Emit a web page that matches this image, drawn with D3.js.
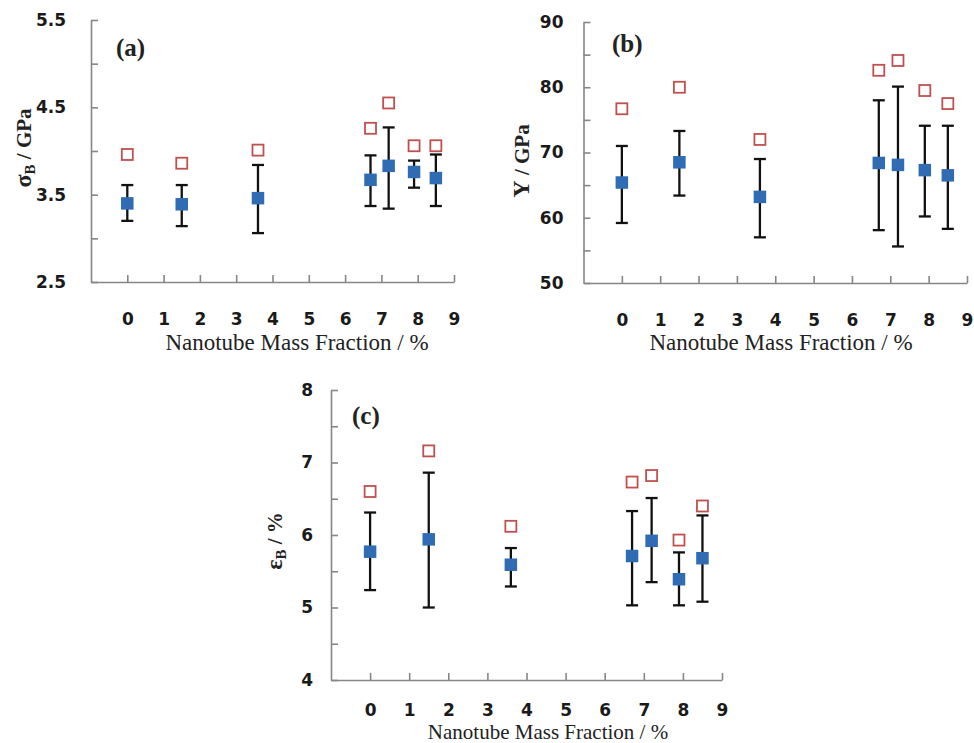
<!DOCTYPE html>
<html>
<head>
<meta charset="utf-8">
<script src="https://cdn.jsdelivr.net/npm/d3@7"></script>
<style>
  html, body { margin: 0; padding: 0; background: #fff; }
  svg { display: block; }
</style>
</head>
<body>
<svg id="fig" width="974" height="743"></svg>
<script>
// Nanotube mass fraction (%) of each specimen set, shared by all three panels
const massFraction = [0, 1.5, 3.6, 6.7, 7.2, 7.9, 8.5];
const xTickValues = [0, 1, 2, 3, 4, 5, 6, 7, 8, 9];

// (a) breaking strength, GPa
const strengthMean = [3.40, 3.39, 3.46, 3.67, 3.83, 3.76, 3.69];
const strengthHigh = [3.61, 3.61, 3.84, 3.95, 4.27, 3.89, 3.96];
const strengthLow  = [3.20, 3.14, 3.06, 3.37, 3.34, 3.58, 3.37];
const strengthMax  = [3.96, 3.86, 4.01, 4.26, 4.55, 4.06, 4.06];
const strengthTicks  = [2.5, 3.0, 3.5, 4.0, 4.5, 5.0, 5.5];
const strengthLabels = [2.5, 3.5, 4.5, 5.5];

// (b) Young's modulus, GPa
const modulusMean = [65.4, 68.5, 63.2, 68.4, 68.1, 67.3, 66.5];
const modulusHigh = [71.0, 73.3, 69.0, 78.0, 80.1, 74.1, 74.1];
const modulusLow  = [59.2, 63.4, 57.0, 58.1, 55.6, 60.2, 58.3];
const modulusMax  = [76.7, 80.0, 72.0, 82.6, 84.1, 79.5, 77.5];
const modulusTicks  = [50, 55, 60, 65, 70, 75, 80, 85, 90];
const modulusLabels = [50, 60, 70, 80, 90];

// (c) strain at break, %
const strainMean = [5.77, 5.94, 5.59, 5.71, 5.92, 5.39, 5.68];
const strainHigh = [6.31, 6.86, 5.82, 6.33, 6.51, 5.76, 6.27];
const strainLow  = [5.24, 5.00, 5.29, 5.03, 5.35, 5.03, 5.08];
const strainMax  = [6.60, 7.16, 6.12, 6.73, 6.82, 5.93, 6.40];
const strainTicks  = [4, 4.5, 5, 5.5, 6, 6.5, 7, 7.5, 8];
const strainLabels = [4, 5, 6, 7, 8];

const svg = d3.select("#fig");

const AXIS_COLOR = "#868686";
const BLUE = "#2f6cb3";
const RED = "#c0504d";
const TICK_FONT = "'DejaVu Sans', Verdana, sans-serif";
const SERIF = "'Liberation Serif', 'Times New Roman', serif";

function drawPanel(p) {
  const x = d3.scaleLinear().domain([-1, 9]).range([p.left, p.right]);
  const y = d3.scaleLinear().domain(p.yDomain).range([p.bottom, p.top]);
  const g = svg.append("g");

  // x axis: ticks point inward, labels sit well below the line
  const xAxis = d3.axisBottom(x)
    .tickValues(xTickValues)
    .tickSizeInner(-7)
    .tickSizeOuter(0)
    .tickPadding(p.xPad)
    .tickFormat(d3.format("d"));
  const gx = g.append("g")
    .attr("transform", `translate(0,${p.bottom})`)
    .call(xAxis);

  // y axis: minor ticks every half step, labels on every other tick
  const labelSet = new Set(p.yLabels);
  const yAxis = d3.axisLeft(y)
    .tickValues(p.yTicks)
    .tickSizeInner(-7)
    .tickSizeOuter(0)
    .tickPadding(p.yPad)
    .tickFormat(d => labelSet.has(d) ? p.yFormat(d) : "");
  const gy = g.append("g")
    .attr("transform", `translate(${p.left},0)`)
    .call(yAxis);

  [gx, gy].forEach(a => {
    a.select(".domain").attr("stroke", AXIS_COLOR).attr("stroke-width", 1.6);
    a.selectAll(".tick line").attr("stroke", AXIS_COLOR).attr("stroke-width", 1.6);
    a.selectAll(".tick text")
      .attr("fill", "#1a1a1a")
      .style("font-family", TICK_FONT)
      .style("font-weight", "bold")
      .style("font-size", "17px");
  });

  const rows = massFraction.map((m, i) => ({
    m, mean: p.mean[i], hi: p.high[i], lo: p.low[i], max: p.max[i]
  }));

  // open squares for the maximum values
  const S_OPEN = 11;
  g.append("g").selectAll("rect")
    .data(rows).join("rect")
    .attr("x", d => x(d.m) - S_OPEN / 2)
    .attr("y", d => y(d.max) - S_OPEN / 2)
    .attr("width", S_OPEN).attr("height", S_OPEN)
    .attr("fill", "#fff")
    .attr("stroke", RED)
    .attr("stroke-width", 1.8);

  // error bars
  const CAP = 12;
  const eb = g.append("g").attr("stroke", "#111").attr("stroke-width", 2.3);
  eb.selectAll("line.v").data(rows).join("line").attr("class", "v")
    .attr("x1", d => x(d.m)).attr("x2", d => x(d.m))
    .attr("y1", d => y(d.lo)).attr("y2", d => y(d.hi));
  eb.selectAll("line.t").data(rows).join("line").attr("class", "t")
    .attr("x1", d => x(d.m) - CAP / 2).attr("x2", d => x(d.m) + CAP / 2)
    .attr("y1", d => y(d.hi)).attr("y2", d => y(d.hi));
  eb.selectAll("line.b").data(rows).join("line").attr("class", "b")
    .attr("x1", d => x(d.m) - CAP / 2).attr("x2", d => x(d.m) + CAP / 2)
    .attr("y1", d => y(d.lo)).attr("y2", d => y(d.lo));

  // filled squares for the mean values
  const S_FILL = 12.5;
  g.append("g").selectAll("rect")
    .data(rows).join("rect")
    .attr("x", d => x(d.m) - S_FILL / 2)
    .attr("y", d => y(d.mean) - S_FILL / 2)
    .attr("width", S_FILL).attr("height", S_FILL)
    .attr("fill", BLUE);

  // panel tag
  g.append("text")
    .attr("x", p.tag[0]).attr("y", p.tag[1])
    .style("font-family", SERIF)
    .style("font-size", "25px")
    .style("font-weight", "bold")
    .attr("fill", "#222")
    .text(p.tagText);

  // x title
  g.append("text")
    .attr("x", p.xTitle[0]).attr("y", p.xTitle[1])
    .attr("text-anchor", "middle")
    .style("font-family", SERIF)
    .style("font-size", p.xTitleSize + "px")
    .attr("fill", "#222")
    .text("Nanotube Mass Fraction / %");

  // y title (rotated, with subscript)
  const yt = g.append("text")
    .attr("transform", `translate(${p.yTitle[0]},${p.yTitle[1]}) rotate(-90)`)
    .attr("text-anchor", "middle")
    .style("font-family", SERIF)
    .style("font-size", "21px")
    .style("font-weight", "bold")
    .attr("fill", "#222");
  yt.append("tspan").style("font-size", "24px").text(p.yTitleMain);
  if (p.yTitleSub) {
    yt.append("tspan").attr("dy", 4).style("font-size", "15px").text(p.yTitleSub);
    yt.append("tspan").attr("dy", -4).text(p.yTitleRest);
  } else {
    yt.append("tspan").text(p.yTitleRest);
  }
}

drawPanel({
  left: 91, right: 454, top: 20, bottom: 282,
  yDomain: [2.5, 5.5], yTicks: strengthTicks, yLabels: strengthLabels,
  yFormat: d3.format(".1f"), yPad: 25, xPad: 31,
  mean: strengthMean, high: strengthHigh, low: strengthLow, max: strengthMax,
  tag: [116, 56], tagText: "(a)",
  xTitle: [297, 350], xTitleSize: 23,
  yTitle: [31, 148], yTitleMain: "σ", yTitleSub: "B", yTitleRest: " / GPa"
});

drawPanel({
  left: 583.5, right: 967, top: 22, bottom: 283,
  yDomain: [50, 90], yTicks: modulusTicks, yLabels: modulusLabels,
  yFormat: d3.format("d"), yPad: 20, xPad: 31,
  mean: modulusMean, high: modulusHigh, low: modulusLow, max: modulusMax,
  tag: [612, 52], tagText: "(b)",
  xTitle: [781, 350], xTitleSize: 23,
  yTitle: [529, 161], yTitleMain: "Y", yTitleSub: null, yTitleRest: " / GPa"
});

drawPanel({
  left: 331, right: 722, top: 390, bottom: 680,
  yDomain: [4, 8], yTicks: strainTicks, yLabels: strainLabels,
  yFormat: d3.format("d"), yPad: 18, xPad: 24,
  mean: strainMean, high: strainHigh, low: strainLow, max: strainMax,
  tag: [352, 424], tagText: "(c)",
  xTitle: [548, 738.5], xTitleSize: 21,
  yTitle: [282, 541], yTitleMain: "ε", yTitleSub: "B", yTitleRest: " / %"
});
</script>
</body>
</html>
